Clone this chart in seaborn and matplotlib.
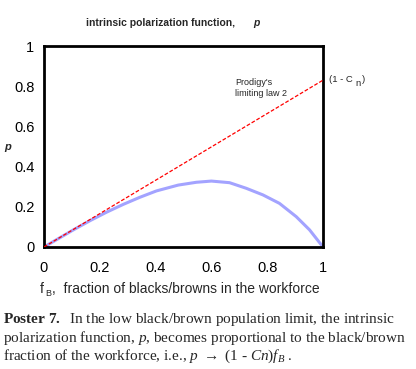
import numpy as np
import pandas as pd
import matplotlib
matplotlib.use("Agg")
import matplotlib.pyplot as plt
import seaborn as sns

# data
fb_curve = [0.0, 0.105, 0.165, 0.224, 0.284, 0.343, 0.403, 0.481, 0.546, 0.600,
            0.665, 0.725, 0.785, 0.844, 0.904, 0.952, 1.0]
p_curve = [0.0, 0.085, 0.131, 0.173, 0.212, 0.247, 0.279, 0.308, 0.322, 0.328,
           0.320, 0.292, 0.259, 0.217, 0.151, 0.085, 0.0]
fb_limit = [0.0, 1.0]
p_limit = [0.0, 0.83]
x_ticks = [0, 0.2, 0.4, 0.6, 0.8, 1]
x_tick_labels = ["0", "0.2", "0.4", "0.6", "0.8", "1"]
y_ticks = [0, 0.2, 0.4, 0.6, 0.8, 1]
y_tick_labels = ["0", "0.2", "0.4", "0.6", "0.8", "1"]

sns.set_theme(style="white")
plt.rcParams["font.family"] = ["Liberation Sans", "DejaVu Sans"]
plt.rcParams["mathtext.fontset"] = "custom"
plt.rcParams["mathtext.rm"] = "Liberation Serif"
plt.rcParams["mathtext.it"] = "Liberation Serif:italic"
plt.rcParams["mathtext.bf"] = "Liberation Serif:bold"

fig = plt.figure(figsize=(4.16, 3.69), dpi=100)
ax = fig.add_axes([44/416, 1-247/369, (323-44)/416, (247-46)/369])

df_c = pd.DataFrame({"fb": fb_curve, "p": p_curve})
df_l = pd.DataFrame({"fb": fb_limit, "p": p_limit})
sns.lineplot(data=df_c, x="fb", y="p", ax=ax, color="#a3a3ff", lw=2.2, sort=False, zorder=2)
sns.lineplot(data=df_l, x="fb", y="p", ax=ax, color="#ff0000", lw=0.9, ls=(0, (3, 1.5)), zorder=3)

ax.set_xlim(0, 1)
ax.set_ylim(0, 1)
ax.set_xticks(x_ticks)
ax.set_xticklabels(x_tick_labels)
ax.set_yticks(y_ticks)
ax.set_yticklabels(y_tick_labels)
ax.tick_params(axis="both", direction="in", length=6, width=2, color="#808080",
               labelsize=10.5, labelcolor="black", pad=7)
ax.tick_params(axis="x", pad=10)
for s in ax.spines.values():
    s.set_color("black")
    s.set_linewidth(2)
ax.set_xlabel("")
ax.set_ylabel("")

fig.text(86/416, 1-23/369, "intrinsic polarization function,", fontsize=7.5,
         fontweight="bold", ha="left", va="center")
fig.text(253/416, 1-23/369, "p", fontsize=7.5, fontweight="bold", style="italic",
         ha="left", va="center")
fig.text(4/416, 1-147/369, "p", fontsize=8, fontweight="bold", style="italic",
         ha="left", va="center")
fig.text(40/416, 1-289/369, "f", fontsize=10, ha="left", va="center")
fig.text(45/416, 1-294/369, "B", fontsize=6.5, ha="left", va="center")
fig.text(52/416, 1-289/369, ",  fraction of blacks/browns in the workforce", fontsize=10,
         ha="left", va="center")

fig.text(235/416, 1-88/369, "Prodigy's\nlimiting law 2", fontsize=6.5, ha="left", va="center",
         linespacing=1.15)
fig.text(329/416, 1-80/369, "(1 - C", fontsize=6.8, ha="left", va="center")
fig.text(355/416, 1-83/369, "n", fontsize=6.8, ha="left", va="center")
fig.text(362/416, 1-80/369, ")", fontsize=6.8, ha="left", va="center")

cap_kw = dict(fontsize=11, ha="left", va="center", family=["Liberation Serif", "DejaVu Serif"])
fig.text(3/416, 1-320/369, r"$\mathbf{Poster\ 7.}$  In the low black/brown population limit, the intrinsic", **cap_kw)
fig.text(3/416, 1-338/369, r"polarization function, $p$, becomes proportional to the black/brown", **cap_kw)
fig.text(3/416, 1-356/369, r"fraction of the workforce, i.e., $p$ $\rightarrow$ (1 - $Cn$)$f_B$ .", **cap_kw)

fig.savefig("out.png", dpi=100)
